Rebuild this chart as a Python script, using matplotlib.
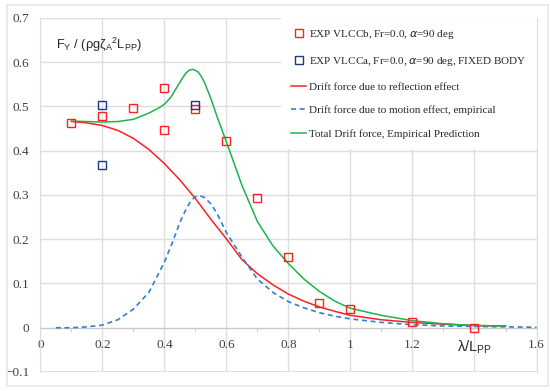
import matplotlib
matplotlib.use("Agg")
import matplotlib.pyplot as plt
from matplotlib.patches import Rectangle
from matplotlib.ticker import FixedLocator

# Experimental data
exp_b_x = [0.1, 0.2, 0.3, 0.4, 0.4, 0.5, 0.6, 0.7, 0.8, 0.9, 1.0, 1.2, 1.4]
exp_b_y = [0.463, 0.478, 0.496, 0.542, 0.447, 0.494, 0.421, 0.293, 0.160, 0.056, 0.042, 0.012, 0.000]
exp_a_x = [0.2, 0.2, 0.5]
exp_a_y = [0.504, 0.368, 0.504]

# Reflection effect curve
refl_x = [0.10, 0.15, 0.20, 0.25, 0.30, 0.35, 0.40, 0.45, 0.50, 0.55, 0.60, 0.65, 0.70,
          0.75, 0.80, 0.85, 0.90, 0.95, 1.00, 1.10, 1.20, 1.30, 1.40, 1.50]
refl_y = [0.466, 0.463, 0.457, 0.446, 0.428, 0.403, 0.371, 0.334, 0.292, 0.245, 0.201, 0.154, 0.122,
          0.097, 0.076, 0.060, 0.047, 0.037, 0.028, 0.018, 0.012, 0.008, 0.005, 0.004]

# Motion effect curve
mot_x = [0.05, 0.10, 0.15, 0.20, 0.25, 0.30, 0.35, 0.40, 0.43, 0.45, 0.47, 0.48, 0.49, 0.50, 0.51,
         0.52, 0.53, 0.55, 0.57, 0.60, 0.65, 0.70, 0.75, 0.80, 0.85, 0.90, 0.95, 1.00, 1.10,
         1.20, 1.30, 1.40, 1.50, 1.60]
mot_y = [0.000, 0.000, 0.002, 0.006, 0.018, 0.042, 0.080, 0.148, 0.200, 0.238, 0.268, 0.280, 0.290, 0.296, 0.298,
         0.297, 0.294, 0.280, 0.258, 0.215, 0.160, 0.110, 0.080, 0.059, 0.045, 0.034, 0.026, 0.020, 0.012,
         0.007, 0.004, 0.003, 0.002, 0.001]

# Total drift force curve
tot_x = [0.10, 0.15, 0.20, 0.25, 0.30, 0.35, 0.38, 0.40, 0.42, 0.44, 0.46, 0.47, 0.48, 0.49, 0.50,
         0.51, 0.52, 0.53, 0.55, 0.57, 0.60, 0.65, 0.70, 0.75, 0.80, 0.85, 0.90, 0.95, 1.00,
         1.10, 1.20, 1.30, 1.40, 1.50]
tot_y = [0.467, 0.466, 0.465, 0.466, 0.471, 0.485, 0.496, 0.505, 0.520, 0.543, 0.566, 0.576, 0.582, 0.584, 0.582,
         0.577, 0.567, 0.553, 0.518, 0.477, 0.420, 0.322, 0.240, 0.185, 0.145, 0.110, 0.082, 0.060, 0.044,
         0.028, 0.016, 0.009, 0.005, 0.004]

xticks = [0, 0.2, 0.4, 0.6, 0.8, 1.0, 1.2, 1.4, 1.6]
xticklabels = ["0", "0.2", "0.4", "0.6", "0.8", "1", "1.2", "", "1.6"]
yticks = [-0.1, 0, 0.1, 0.2, 0.3, 0.4, 0.5, 0.6, 0.7]
yticklabels = ["\u22120.1", "0", "0.1", "0.2", "0.3", "0.4", "0.5", "0.6", "0.7"]

plt.rcParams['font.family'] = ['Liberation Serif', 'DejaVu Serif']
plt.rcParams['mathtext.default'] = 'regular'

fig = plt.figure(figsize=(5.5, 3.91), dpi=100)
fig.patches.append(Rectangle((0.012, 0.013), 0.985, 0.975, transform=fig.transFigure,
                             fill=False, edgecolor='#e6e6e6', linewidth=1.2))
ax = fig.add_axes([0.0733, 0.0486, 0.9022, 0.9054])

ax.set_xlim(0, 1.6)
ax.set_ylim(-0.1, 0.7)
ax.set_xticks(xticks)
ax.set_xticklabels(xticklabels)
ax.set_yticks(yticks)
ax.set_yticklabels(yticklabels)
ax.xaxis.set_minor_locator(FixedLocator([0.1, 0.3, 0.5, 0.7, 0.9, 1.1, 1.3, 1.5]))
ax.grid(True, which='major', color='#dedede', linewidth=1.0)
ax.set_axisbelow(True)
for s in ['top', 'right', 'left']:
    ax.spines[s].set_color('#dedede')
ax.spines['bottom'].set_position(('data', 0))
ax.spines['bottom'].set_color('#c8c8c8')
ax.spines['bottom'].set_zorder(1)
ax.tick_params(axis='x', which='major', length=0, labelsize=9.5, colors='#404040', pad=8)
ax.tick_params(axis='x', which='minor', length=3, color='#c8c8c8', direction='out')
ax.tick_params(axis='y', length=0, labelsize=9.5, colors='#404040', pad=8)
ax.axhline(-0.1, color='#dedede', linewidth=1.2, zorder=0.5)

c_red = '#ff2020'
c_navy = '#1f3a78'
c_blue = '#2f80d0'
c_green = '#1db350'

ax.plot(exp_b_x, exp_b_y, linestyle='none', marker='s', markersize=5.5, markerfacecolor='none',
        markeredgecolor=c_red, markeredgewidth=1.0, label='EXP VLCCb, Fr=0.0, $\\it{\\alpha}$=90 deg', zorder=4)
ax.plot(exp_a_x, exp_a_y, linestyle='none', marker='s', markersize=5.5, markerfacecolor='none',
        markeredgecolor=c_navy, markeredgewidth=1.0, label='EXP VLCCa, Fr=0.0, $\\it{\\alpha}$=90 deg, FIXED BODY', zorder=4)
ax.plot(refl_x, refl_y, color=c_red, linewidth=1.1, label='Drift force due to reflection effect', zorder=3)
ax.plot(mot_x, mot_y, color=c_blue, linewidth=1.2, linestyle=(0, (3, 2.2)),
        label='Drift force due to motion effect, empirical', zorder=3)
ax.plot(tot_x, tot_y, color=c_green, linewidth=1.1, label='Total Drift force, Empirical Prediction', zorder=3)

leg = ax.legend(loc='upper right', bbox_to_anchor=(1.0, 1.0), fontsize=8.0, frameon=True,
                facecolor='white', edgecolor='none', framealpha=1.0, fancybox=False,
                handlelength=1.3, handletextpad=0.3, labelspacing=1.25, borderpad=0.9,
                borderaxespad=0.0)
for t in leg.get_texts():
    t.set_color('#262626')

ax.text(0.052, 0.64, 'F$_{Y}$ / (ρgζ$_{A}$$^{2}$L$_{PP}$)', fontsize=9.2, color='#262626',
        family=['Liberation Sans', 'DejaVu Sans'], ha='left', va='center')
ax.text(1.345, -0.045, 'λ/L$_{PP}$', fontsize=10.5, color='#262626',
        family=['Liberation Sans', 'DejaVu Sans'], ha='left', va='center')

fig.savefig('out.png', dpi=100)
